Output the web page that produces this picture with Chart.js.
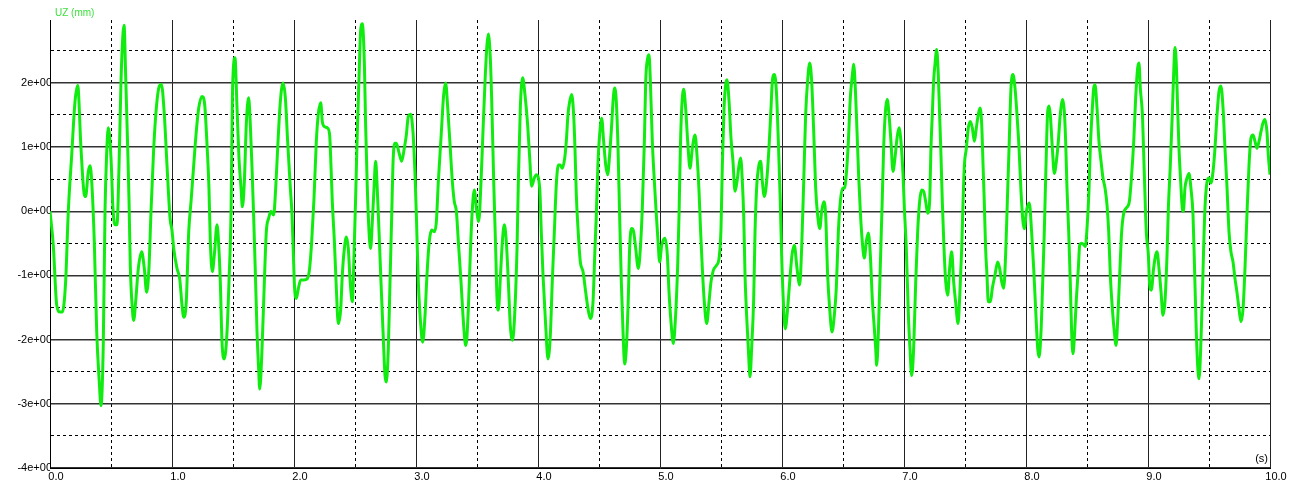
<!DOCTYPE html>
<html>
<head>
<meta charset="utf-8">
<title>UZ (mm)</title>
<script src="https://cdn.jsdelivr.net/npm/chart.js@4.4.0/dist/chart.umd.min.js"></script>
<style>
  html, body { margin: 0; padding: 0; background: #fff; }
  canvas { display: block; }
</style>
</head>
<body>
<canvas id="uzChart" width="1293" height="484"></canvas>
<script>
// Vertical displacement record (time in s, UZ in mm)

const yAxisTitle = 'UZ (mm)';
const xAxisUnit = '(s)';

const xTickLabels = ['0.0', '1.0', '2.0', '3.0', '4.0', '5.0', '6.0', '7.0', '8.0', '9.0', '10.0'];
const xGridValues = [0, 0.5, 1, 1.5, 2, 2.5, 3, 3.5, 4, 4.5, 5, 5.5, 6, 6.5, 7, 7.5, 8, 8.5, 9, 9.5, 10];
const yTickLabels = ['-4e+00', '-3e+00', '-2e+00', '-1e+00', '0e+00', '1e+00', '2e+00'];
const yGridValues = [-4, -3.5, -3, -2.5, -2, -1.5, -1, -0.5, 0, 0.5, 1, 1.5, 2, 2.5];

const timeS = [
    0, 0.027, 0.055, 0.082, 0.101, 0.128, 0.150, 0.178, 0.205, 0.227, 0.254, 0.281, 0.292, 0.314, 0.328, 0.342, 0.363, 0.383, 0.404, 0.418, 0.437, 0.451, 0.464, 0.478, 0.500, 0.516, 0.533, 0.549, 0.566, 0.582, 0.598, 0.607, 0.620, 0.637, 0.648, 0.658, 0.675, 0.686, 0.702, 0.724, 0.751, 0.773, 0.792, 0.811, 0.828, 0.850, 0.874, 0.896, 0.913, 0.937, 0.959, 0.984,
    1.000, 1.014, 1.041, 1.063, 1.082, 1.096, 1.117, 1.137, 1.156, 1.178, 1.199, 1.219, 1.246, 1.268, 1.287, 1.303, 1.314, 1.331, 1.347, 1.369, 1.383, 1.396, 1.410, 1.429, 1.451, 1.467, 1.484, 1.495, 1.505, 1.516, 1.533, 1.549, 1.566, 1.577, 1.593, 1.609, 1.628, 1.642, 1.656, 1.669, 1.683, 1.697, 1.710, 1.719, 1.738, 1.757, 1.773, 1.792, 1.811, 1.833, 1.850, 1.869, 1.888, 1.910, 1.929, 1.948, 1.970, 1.984, 1.995,
    2.005, 2.019, 2.036, 2.055, 2.082, 2.109, 2.128, 2.145, 2.164, 2.183, 2.199, 2.219, 2.232, 2.249, 2.273, 2.292, 2.303, 2.314, 2.331, 2.347, 2.363, 2.383, 2.396, 2.413, 2.429, 2.445, 2.459, 2.478, 2.492, 2.505, 2.519, 2.533, 2.546, 2.560, 2.577, 2.587, 2.601, 2.615, 2.628, 2.642, 2.656, 2.669, 2.680, 2.697, 2.713, 2.730, 2.746, 2.757, 2.773, 2.787, 2.801, 2.811, 2.825, 2.839, 2.861, 2.883, 2.904, 2.921, 2.937, 2.956, 2.975, 2.992,
    3.003, 3.019, 3.041, 3.055, 3.074, 3.090, 3.109, 3.128, 3.150, 3.167, 3.183, 3.205, 3.227, 3.243, 3.260, 3.281, 3.298, 3.314, 3.331, 3.347, 3.369, 3.385, 3.402, 3.410, 3.429, 3.445, 3.459, 3.478, 3.495, 3.514, 3.533, 3.549, 3.566, 3.582, 3.593, 3.609, 3.620, 3.637, 3.653, 3.664, 3.675, 3.691, 3.708, 3.724, 3.740, 3.757, 3.773, 3.792, 3.811, 3.828, 3.839, 3.855, 3.874, 3.893, 3.915, 3.932, 3.948, 3.970, 3.986,
    4.014, 4.027, 4.041, 4.063, 4.082, 4.101, 4.117, 4.134, 4.150, 4.167, 4.183, 4.199, 4.219, 4.232, 4.246, 4.260, 4.276, 4.292, 4.303, 4.314, 4.328, 4.347, 4.369, 4.391, 4.410, 4.429, 4.451, 4.467, 4.478, 4.492, 4.505, 4.522, 4.538, 4.555, 4.571, 4.587, 4.604, 4.615, 4.628, 4.642, 4.656, 4.669, 4.683, 4.697, 4.710, 4.724, 4.740, 4.751, 4.768, 4.784, 4.801, 4.822, 4.839, 4.855, 4.872, 4.883, 4.899, 4.910, 4.921, 4.937, 4.954, 4.970, 4.984, 4.997,
    5.014, 5.041, 5.060, 5.074, 5.090, 5.109, 5.128, 5.145, 5.156, 5.167, 5.178, 5.194, 5.210, 5.227, 5.246, 5.265, 5.287, 5.303, 5.320, 5.333, 5.347, 5.363, 5.383, 5.402, 5.418, 5.437, 5.464, 5.484, 5.500, 5.511, 5.525, 5.538, 5.549, 5.566, 5.582, 5.598, 5.615, 5.631, 5.648, 5.661, 5.675, 5.686, 5.697, 5.710, 5.724, 5.738, 5.751, 5.768, 5.779, 5.792, 5.811, 5.825, 5.839, 5.855, 5.874, 5.893, 5.910, 5.921, 5.937, 5.954, 5.970, 5.986,
    5.997, 6.014, 6.027, 6.046, 6.063, 6.082, 6.101, 6.123, 6.145, 6.161, 6.178, 6.194, 6.210, 6.227, 6.243, 6.260, 6.276, 6.292, 6.310, 6.325, 6.342, 6.358, 6.374, 6.391, 6.410, 6.429, 6.445, 6.462, 6.478, 6.495, 6.511, 6.527, 6.544, 6.560, 6.577, 6.587, 6.601, 6.615, 6.628, 6.642, 6.658, 6.675, 6.691, 6.708, 6.724, 6.740, 6.757, 6.768, 6.776, 6.790, 6.806, 6.822, 6.833, 6.850, 6.863, 6.877, 6.893, 6.910, 6.926, 6.943, 6.959, 6.975, 6.992,
    7.003, 7.019, 7.036, 7.049, 7.063, 7.079, 7.096, 7.112, 7.128, 7.145, 7.161, 7.178, 7.194, 7.210, 7.221, 7.232, 7.243, 7.254, 7.268, 7.281, 7.292, 7.303, 7.314, 7.328, 7.342, 7.358, 7.374, 7.391, 7.407, 7.423, 7.443, 7.456, 7.473, 7.484, 7.495, 7.511, 7.527, 7.544, 7.560, 7.577, 7.593, 7.609, 7.623, 7.637, 7.648, 7.658, 7.669, 7.680, 7.691, 7.708, 7.724, 7.746, 7.768, 7.784, 7.801, 7.817, 7.833, 7.847, 7.861, 7.877, 7.893, 7.910, 7.926, 7.943, 7.959, 7.975, 7.986,
    8.003, 8.027, 8.046, 8.063, 8.079, 8.096, 8.107, 8.123, 8.137, 8.150, 8.164, 8.178, 8.189, 8.199, 8.216, 8.232, 8.249, 8.265, 8.281, 8.301, 8.314, 8.325, 8.336, 8.350, 8.363, 8.374, 8.385, 8.399, 8.413, 8.429, 8.440, 8.456, 8.473, 8.486, 8.500, 8.516, 8.527, 8.544, 8.555, 8.566, 8.582, 8.598, 8.615, 8.631, 8.648, 8.664, 8.678, 8.691, 8.708, 8.724, 8.738, 8.751, 8.768, 8.784, 8.801, 8.822, 8.847, 8.866, 8.883, 8.899, 8.915, 8.926, 8.937, 8.954, 8.970, 8.986,
    9.003, 9.012, 9.027, 9.046, 9.063, 9.074, 9.090, 9.107, 9.123, 9.139, 9.156, 9.167, 9.183, 9.199, 9.210, 9.221, 9.232, 9.243, 9.254, 9.268, 9.281, 9.290, 9.303, 9.320, 9.336, 9.352, 9.369, 9.383, 9.396, 9.407, 9.418, 9.432, 9.445, 9.456, 9.467, 9.484, 9.500, 9.516, 9.533, 9.549, 9.566, 9.582, 9.598, 9.615, 9.631, 9.648, 9.664, 9.680, 9.697, 9.713, 9.729, 9.746, 9.762, 9.779, 9.795, 9.811, 9.828, 9.844, 9.861, 9.877, 9.893, 9.910, 9.926, 9.943, 9.959, 9.975, 9.986, 10.0
];

const uzMm = [
    0, -0.53, -1.46, -1.57, -1.57, -1.10, 0, 0.88, 1.71, 1.96, 0.98, 0.26, 0.23, 0.62, 0.71, 0.46, -0.47, -1.88, -2.66, -3.03, -2.04, 0, 0.88, 1.30, 0.83, 0.05, -0.21, -0.21, 0.72, 2.03, 2.76, 2.90, 2.13, 0.98, 0.15, -0.84, -1.52, -1.70, -1.41, -0.89, -0.63, -0.89, -1.26, -0.89, 0, 0.98, 1.66, 1.95, 1.98, 1.51, 0.72, -0.11,
    -0.30, -0.58, -0.89, -1.05, -1.46, -1.65, -1.41, -0.32, 0.15, 0.72, 1.24, 1.61, 1.79, 1.66, 1.04, 0.36, -0.47, -0.94, -0.68, -0.21, -0.53, -1.10, -2.04, -2.30, -1.88, -1.10, 0, 1.77, 2.29, 2.39, 1.61, 0.83, 0.36, 0.07, 0.46, 1.35, 1.77, 1.35, 0.67, -0.06, -0.94, -1.88, -2.45, -2.77, -2.14, -1.10, -0.32, -0.11, 0, -0.06, 0.36, 1.09, 1.71, 2.00, 1.77, 1.09, 0.36, -0.06, -0.68,
    -1.20, -1.36, -1.20, -1.07, -1.07, -1.05, -0.89, -0.47, 0.20, 1.09, 1.51, 1.69, 1.40, 1.32, 1.30, 1.19, 0.72, 0.15, -0.47, -1.20, -1.75, -1.52, -0.99, -0.58, -0.40, -0.58, -1.05, -1.41, -0.68, 0.20, 1.24, 2.08, 2.81, 2.92, 2.29, 1.35, 0.36, -0.32, -0.58, -0.16, 0.36, 0.78, 0.46, -0.32, -1.10, -1.88, -2.56, -2.66, -2.14, -1.10, -0.06, 0.72, 1.06, 1.06, 0.91, 0.78, 0.98, 1.19, 1.48, 1.51, 1.24, 0.57,
    -0.06, -1.10, -1.83, -2.04, -1.62, -0.99, -0.47, -0.29, -0.32, -0.16, 0.46, 1.14, 1.82, 2.00, 1.61, 0.98, 0.46, 0.15, 0, -0.47, -1.10, -1.62, -2.04, -2.09, -1.52, -0.68, -0.06, 0.33, 0.05, -0.16, 0.46, 1.24, 2.03, 2.60, 2.76, 2.39, 1.77, 0.46, -0.58, -1.36, -1.54, -1.05, -0.47, -0.21, -0.47, -1.10, -1.78, -2.01, -1.52, -0.58, 0.46, 1.61, 2.08, 1.82, 1.35, 0.83, 0.39, 0.52, 0.57,
    0.36, -0.32, -0.99, -1.78, -2.30, -1.93, -1.10, -0.32, 0.41, 0.72, 0.72, 0.67, 0.83, 1.09, 1.51, 1.71, 1.82, 1.51, 0.98, 0.26, -0.27, -0.79, -0.94, -1.26, -1.52, -1.67, -1.41, -0.58, -0.06, 0.78, 1.19, 1.45, 1.09, 0.72, 0.57, 0.88, 1.35, 1.71, 1.92, 1.71, 0.98, -0.06, -1.10, -1.88, -2.38, -2.14, -1.36, -0.58, -0.27, -0.32, -0.58, -0.89, -0.58, 0.05, 1.09, 2.03, 2.39, 2.44, 2.03, 1.09, 0.46, -0.06, -0.47, -0.79,
    -0.53, -0.42, -0.68, -1.26, -1.72, -2.06, -1.62, -0.84, -0.06, 0.98, 1.61, 1.90, 1.61, 1.09, 0.67, 0.98, 1.19, 0.88, 0.31, -0.32, -0.89, -1.41, -1.75, -1.41, -1.10, -0.92, -0.84, -0.73, -0.27, 0.72, 1.61, 1.97, 2.05, 1.71, 1.14, 0.78, 0.31, 0.46, 0.72, 0.83, 0.46, -0.06, -0.99, -1.62, -2.14, -2.58, -2.14, -1.36, -0.32, 0.36, 0.72, 0.78, 0.46, 0.23, 0.46, 0.98, 1.61, 2.03, 2.13, 1.87, 1.09, 0.15,
    -0.68, -1.52, -1.83, -1.52, -1.10, -0.68, -0.53, -0.89, -1.15, -0.58, 0.46, 1.51, 2.03, 2.31, 2.03, 1.24, 0.36, -0.06, -0.27, 0, 0.15, -0.06, -0.99, -1.52, -1.88, -1.62, -1.20, -0.32, 0.15, 0.36, 0.36, 0.57, 1.09, 1.77, 2.13, 2.29, 1.92, 1.24, 0.57, 0, -0.47, -0.73, -0.47, -0.34, -0.68, -1.36, -1.83, -2.14, -2.40, -1.88, -0.84, 0.20, 0.98, 1.61, 1.74, 1.51, 1.09, 0.62, 0.83, 1.14, 1.30, 1.09, 0.57,
    0.05, -0.58, -1.62, -2.14, -2.56, -2.14, -1.10, -0.32, 0.15, 0.33, 0.31, 0.15, -0.03, 0.15, 0.98, 1.51, 2.03, 2.29, 2.52, 2.13, 1.51, 0.88, 0.15, -0.58, -1.10, -1.31, -0.89, -0.63, -1.10, -1.41, -1.75, -1.36, -0.58, 0.15, 0.72, 0.98, 1.30, 1.40, 1.30, 1.09, 1.30, 1.51, 1.61, 1.35, 0.72, 0.15, -0.58, -0.99, -1.41, -1.41, -1.20, -0.99, -0.79, -0.89, -1.10, -1.20, -0.68, 0.15, 0.98, 1.92, 2.13, 1.92, 1.51, 0.98, 0.31, -0.16, -0.27,
    0, 0.13, -0.32, -0.89, -1.52, -2.14, -2.27, -1.88, -1.10, -0.32, 0.72, 1.56, 1.64, 1.51, 0.98, 0.59, 0.78, 1.09, 1.51, 1.74, 1.56, 1.09, 0.36, -0.32, -1.10, -1.88, -2.22, -1.88, -1.36, -0.89, -0.53, -0.50, -0.52, -0.55, -0.27, 0.31, 0.98, 1.61, 1.92, 1.97, 1.61, 1.09, 0.78, 0.52, 0.36, 0.10, -0.32, -0.99, -1.52, -1.88, -2.09, -1.72, -0.99, -0.32, -0.03, 0.05, 0.15, 0.57, 1.09, 1.77, 2.23, 2.31, 1.92, 1.51, 0.57, -0.32,
    -0.68, -1.10, -1.23, -0.89, -0.68, -0.63, -0.89, -1.26, -1.62, -1.41, -0.68, 0.05, 0.72, 1.51, 2.13, 2.55, 2.29, 1.61, 0.98, 0.46, 0.05, 0, 0.36, 0.52, 0.59, 0.36, -0.06, -0.99, -1.88, -2.40, -2.61, -2.14, -1.36, -0.58, 0.05, 0.46, 0.52, 0.44, 0.62, 0.98, 1.51, 1.87, 1.95, 1.61, 0.98, 0.36, -0.32, -0.63, -0.79, -1.05, -1.26, -1.52, -1.72, -1.52, -0.89, -0.06, 0.72, 1.14, 1.19, 1.09, 0.98, 1.09, 1.24, 1.38, 1.43, 1.24, 0.88, 0.57
];

const points = [];
for (let i = 0; i < Math.min(timeS.length, uzMm.length); i++) {
    points.push({ x: timeS[i], y: uzMm[i] });
}

const FONT = '"Liberation Sans", Arial, sans-serif';

// solid lines on whole units, dashed on the half units
const isWhole = (ctx) => ctx.tick && Number.isInteger(ctx.tick.value);
const gridDash = (ctx) => (ctx.tick && !Number.isInteger(ctx.tick.value)) ? [3, 3] : [];

const captions = {
    id: 'captions',
    afterDraw(chart) {
        const { ctx, chartArea } = chart;
        ctx.save();
        ctx.font = '10px ' + FONT;
        ctx.textBaseline = 'middle';
        ctx.textAlign = 'left';
        ctx.fillStyle = '#3ee03e';
        ctx.fillText(yAxisTitle, chartArea.left + 5, chartArea.top - 7);
        ctx.font = '11px ' + FONT;
        ctx.fillStyle = '#000';
        ctx.textAlign = 'right';
        ctx.fillText(xAxisUnit, chartArea.right - 2, chartArea.bottom - 9);
        ctx.restore();
    }
};

new Chart(document.getElementById('uzChart'), {
    type: 'line',
    data: {
        datasets: [{
            label: yAxisTitle,
            data: points,
            borderColor: '#10ec10',
            borderWidth: 3,
            pointRadius: 0,
            fill: false,
            cubicInterpolationMode: 'monotone'
        }]
    },
    options: {
        responsive: false,
        animation: false,
        devicePixelRatio: 1,
        layout: { padding: { top: 20, right: 23, bottom: 0, left: 0 } },
        plugins: {
            legend: { display: false },
            tooltip: { enabled: false }
        },
        scales: {
            x: {
                type: 'linear',
                min: 0,
                max: 10,
                afterBuildTicks: (scale) => { scale.ticks = xGridValues.map(v => ({ value: v })); },
                afterFit: (scale) => { scale.height = 16; },
                grid: {
                    drawTicks: false,
                    color: (ctx) => isWhole(ctx) ? '#222' : '#000',
                    lineWidth: 1
                },
                border: { display: true, color: '#000', width: 1, dash: gridDash },
                ticks: {
                    autoSkip: false,
                    maxRotation: 0,
                    padding: 2,
                    labelOffset: 6,
                    color: '#000',
                    font: { family: FONT, size: 11 },
                    callback: (value) => Number.isInteger(value) ? xTickLabels[value] : ''
                }
            },
            y: {
                type: 'linear',
                min: -4,
                max: 2.98,
                afterBuildTicks: (scale) => { scale.ticks = yGridValues.map(v => ({ value: v })); },
                afterFit: (scale) => { scale.width = 50; },
                grid: {
                    drawTicks: false,
                    color: (ctx) => isWhole(ctx) ? '#333' : '#000',
                    lineWidth: (ctx) => isWhole(ctx) ? 1.4 : 1
                },
                border: { display: true, color: '#000', width: 1, dash: gridDash },
                ticks: {
                    autoSkip: false,
                    padding: -2,
                    color: '#000',
                    font: { family: FONT, size: 11 },
                    callback: (value) => Number.isInteger(value) ? yTickLabels[value + 4] : ''
                }
            }
        }
    },
    plugins: [captions]
});
</script>
</body>
</html>
